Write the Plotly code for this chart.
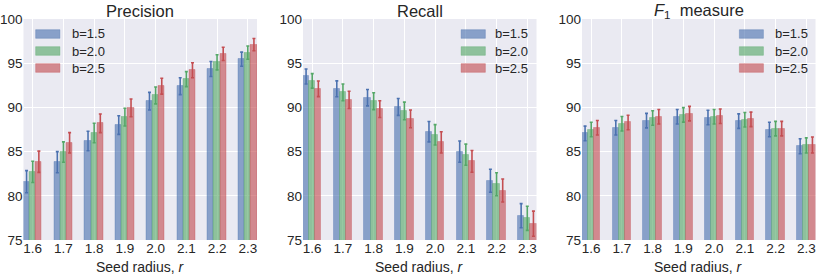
import plotly.graph_objects as go
import numpy as np

radii = ["1.6", "1.7", "1.8", "1.9", "2.0", "2.1", "2.2", "2.3"]
series_names = ["b=1.5", "b=2.0", "b=2.5"]
panel_titles = ["Precision", "Recall", "<i>F</i><sub>1</sub>  measure"]
x_title = "Seed radius, <i>r</i>"
y_ticks = [75, 80, 85, 90, 95, 100]

precision_b15 = [81.6, 83.8, 86.2, 88.0, 90.7, 92.4, 94.35, 95.45]
precision_b20 = [82.7, 84.95, 87.1, 88.9, 91.35, 93.2, 95.1, 96.2]
precision_b25 = [83.85, 86.0, 88.2, 89.95, 92.4, 94.2, 96.05, 97.1]
precision_err_b15 = [1.25, 1.2, 1.1, 1.05, 1.0, 0.95, 0.85, 0.8]
precision_err_b20 = [1.2, 1.15, 1.1, 1.0, 0.95, 0.85, 0.85, 0.75]
precision_err_b25 = [1.2, 1.15, 1.05, 1.0, 0.9, 0.85, 0.75, 0.7]

recall_b15 = [93.5, 92.1, 91.1, 90.05, 87.25, 85.0, 81.7, 77.75]
recall_b20 = [93.0, 91.7, 90.7, 89.6, 86.9, 84.65, 81.3, 77.45]
recall_b25 = [92.1, 90.85, 89.8, 88.7, 86.05, 83.9, 80.6, 76.85]
recall_err_b15 = [0.85, 0.9, 0.93, 0.95, 1.15, 1.2, 1.3, 1.36]
recall_err_b20 = [0.82, 0.95, 0.95, 1.0, 1.15, 1.2, 1.3, 1.36]
recall_err_b25 = [0.88, 0.97, 0.95, 1.0, 1.2, 1.23, 1.3, 1.42]

f1_b15 = [87.05, 87.7, 88.5, 88.95, 88.85, 88.45, 87.5, 85.6]
f1_b20 = [87.5, 88.15, 88.8, 89.15, 88.95, 88.6, 87.6, 85.7]
f1_b25 = [87.7, 88.3, 88.95, 89.3, 89.0, 88.65, 87.6, 85.75]
f1_err_b15 = [0.83, 0.82, 0.82, 0.82, 0.82, 0.82, 0.82, 0.85]
f1_err_b20 = [0.82, 0.82, 0.82, 0.82, 0.82, 0.82, 0.82, 0.85]
f1_err_b25 = [0.82, 0.82, 0.82, 0.82, 0.82, 0.82, 0.82, 0.9]

panels = [
    ([precision_b15, precision_b20, precision_b25],
     [precision_err_b15, precision_err_b20, precision_err_b25]),
    ([recall_b15, recall_b20, recall_b25],
     [recall_err_b15, recall_err_b20, recall_err_b25]),
    ([f1_b15, f1_b20, f1_b25],
     [f1_err_b15, f1_err_b20, f1_err_b25]),
]

base_cols = [(76, 114, 176), (85, 168, 104), (196, 78, 82)]
alpha = 0.62
fill_cols = [f"rgba({r},{g},{b},{alpha})" for r, g, b in base_cols]
edge_cols = [f"rgba({r},{g},{b},0.35)" for r, g, b in base_cols]
err_cols = [f"rgb({r},{g},{b})" for r, g, b in base_cols]

W, H = 830, 277
px_left = [23.5, 303, 582]
px_width = 233.5
px_top, px_bot = 19, 240

fig = go.Figure()
FONT = "Liberation Sans, Arial, sans-serif"
TXT = "#262626"
bar_w = 0.2
idx = np.arange(len(radii))

for p, (vals, errs) in enumerate(panels):
    xa = "x" if p == 0 else f"x{p+1}"
    ya = "y" if p == 0 else f"y{p+1}"
    for s in range(3):
        fig.add_trace(go.Bar(
            x=idx + (s - 1) * bar_w, y=vals[s], width=bar_w,
            marker=dict(color=fill_cols[s], line=dict(color=edge_cols[s], width=1)),
            error_y=dict(type="data", array=errs[s], color=err_cols[s], thickness=1.6, width=1.5),
            name=series_names[s], showlegend=False, xaxis=xa, yaxis=ya,
        ))
    x0 = px_left[p] / W
    x1 = (px_left[p] + px_width) / W
    axkey = "xaxis" if p == 0 else f"xaxis{p+1}"
    aykey = "yaxis" if p == 0 else f"yaxis{p+1}"
    fig.update_layout(**{
        axkey: dict(domain=[x0, x1], anchor=ya, range=[-0.3, 7.3], automargin=False,
                    tickmode="array", tickvals=list(idx), ticktext=radii,
                    showgrid=True, gridcolor="white", gridwidth=1,
                    zeroline=False, showline=False, ticks="", ticklabelstandoff=-2,
                    tickfont=dict(family=FONT, size=13.5, color=TXT)),
        aykey: dict(domain=[(H - px_bot) / H, (H - px_top) / H], anchor=xa, automargin=False,
                    range=[75, 100], tickmode="array", tickvals=y_ticks,
                    showgrid=True, gridcolor="white", gridwidth=1,
                    zeroline=False, showline=False, ticks="",
                    tickfont=dict(family=FONT, size=13.5, color=TXT)),
    })
    # subplot title
    fig.add_annotation(text=panel_titles[p], xref=f"{xa} domain", yref="paper",
                       x=0.5, y=(H - 11) / H, showarrow=False, xanchor="center", yanchor="middle",
                       font=dict(family=FONT, size=16.5, color=TXT))
    # x axis title
    fig.add_annotation(text=x_title, xref=f"{xa} domain", yref="paper",
                       x=0.5, y=(H - 266.5) / H, showarrow=False, xanchor="center", yanchor="middle",
                       font=dict(family=FONT, size=14, color=TXT))
    # legend
    if p == 0:
        lx0, lx1, tx = 0.052, 0.156, 0.199
    elif p == 1:
        lx0, lx1, tx = 0.677, 0.781, 0.815
    else:
        lx0, lx1, tx = 0.674, 0.777, 0.819
    for s in range(3):
        cy = (px_bot - (34 + 17 * s)) / (px_bot - px_top)
        hh = 4.3 / (px_bot - px_top)
        fig.add_shape(type="rect", xref=f"{xa} domain", yref=f"{ya} domain",
                      x0=lx0, x1=lx1, y0=cy - hh, y1=cy + hh,
                      fillcolor=fill_cols[s], line=dict(color=edge_cols[s], width=1))
        fig.add_annotation(text=series_names[s], xref=f"{xa} domain", yref=f"{ya} domain",
                           x=tx, y=cy, showarrow=False, xanchor="left", yanchor="middle",
                           font=dict(family=FONT, size=13, color=TXT))

fig.update_layout(
    width=W, height=H, margin=dict(l=0, r=0, t=0, b=0),
    paper_bgcolor="white", plot_bgcolor="#EAEAF2",
    barmode="overlay", bargap=0, showlegend=False,
)

fig.write_html("out.html", config={"displayModeBar": False},
               post_script="document.body.style.margin='0';document.body.style.overflow='hidden';")
